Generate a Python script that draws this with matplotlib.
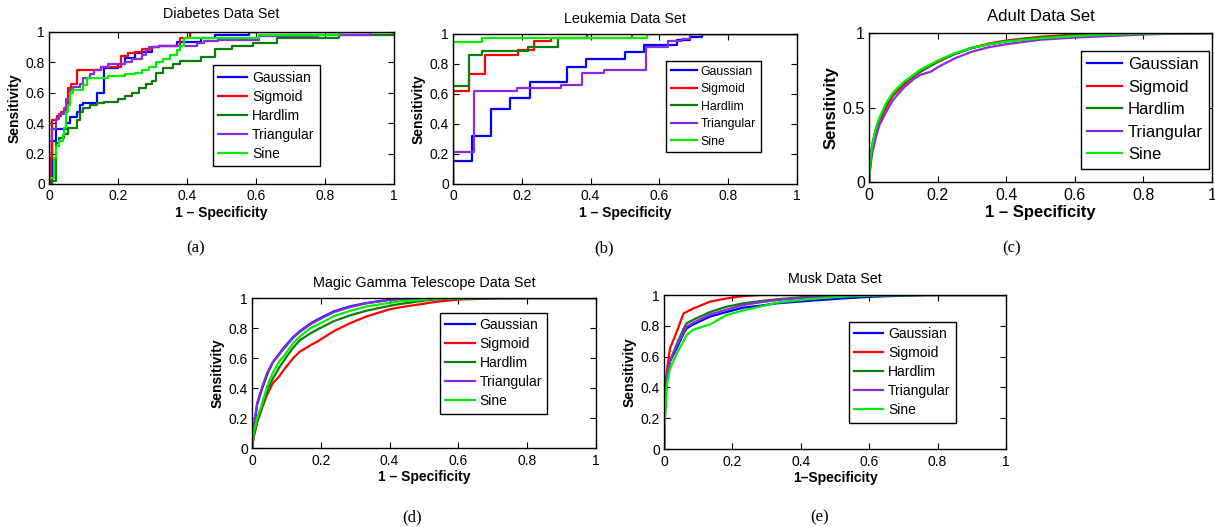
import matplotlib
matplotlib.use('Agg')
import matplotlib.pyplot as plt
from matplotlib.ticker import FuncFormatter

plt.rcParams['font.family'] = ['Liberation Sans', 'DejaVu Sans']

names = ['Gaussian', 'Sigmoid', 'Hardlim', 'Triangular', 'Sine']
colors = ['#0000ff', '#ff0000', '#087f08', '#8a2be2', '#00ee00']

# (a) Diabetes - step ROC curves
diab_gauss_x = [0, 0.01, 0.02, 0.05, 0.06, 0.08, 0.09, 0.10, 0.14, 0.16, 0.20, 0.22, 0.25, 0.27, 0.30, 0.32, 0.37, 0.44, 0.48, 0.58, 1.0]
diab_gauss_y = [0, 0.28, 0.36, 0.40, 0.44, 0.47, 0.52, 0.53, 0.60, 0.76, 0.79, 0.83, 0.86, 0.87, 0.90, 0.91, 0.935, 0.96, 0.98, 1.0, 1.0]
diab_sig_x = [0, 0.005, 0.01, 0.022, 0.035, 0.05, 0.055, 0.065, 0.08, 0.15, 0.21, 0.23, 0.25, 0.27, 0.30, 0.32, 0.38, 0.41, 1.0]
diab_sig_y = [0, 0.17, 0.42, 0.45, 0.47, 0.51, 0.63, 0.66, 0.75, 0.77, 0.84, 0.86, 0.87, 0.89, 0.90, 0.91, 0.96, 1.0, 1.0]
diab_hard_x = [0, 0.01, 0.02, 0.03, 0.045, 0.055, 0.08, 0.09, 0.10, 0.12, 0.14, 0.16, 0.20, 0.22, 0.24, 0.26, 0.28, 0.30, 0.31, 0.33, 0.36, 0.38, 0.44, 0.48, 0.53, 0.59, 0.66, 0.84, 1.0]
diab_hard_y = [0, 0.02, 0.27, 0.30, 0.33, 0.37, 0.42, 0.47, 0.50, 0.52, 0.53, 0.54, 0.56, 0.58, 0.60, 0.63, 0.66, 0.68, 0.73, 0.76, 0.79, 0.81, 0.835, 0.89, 0.91, 0.926, 0.96, 0.98, 1.0]
diab_tri_x = [0, 0, 0.01, 0.02, 0.03, 0.045, 0.05, 0.06, 0.07, 0.09, 0.10, 0.12, 0.13, 0.15, 0.17, 0.22, 0.24, 0.27, 0.28, 0.29, 0.32, 0.43, 0.45, 0.49, 0.61, 0.78, 0.93, 1.0]
diab_tri_y = [0, 0.28, 0.36, 0.43, 0.46, 0.50, 0.56, 0.62, 0.64, 0.66, 0.70, 0.72, 0.75, 0.77, 0.79, 0.80, 0.82, 0.85, 0.88, 0.90, 0.91, 0.93, 0.94, 0.95, 0.97, 0.98, 1.0, 1.0]
diab_sine_x = [0, 0, 0.015, 0.02, 0.03, 0.04, 0.045, 0.05, 0.055, 0.06, 0.07, 0.10, 0.11, 0.17, 0.22, 0.25, 0.27, 0.29, 0.31, 0.33, 0.35, 0.37, 0.38, 0.39, 0.61, 0.84, 1.0]
diab_sine_y = [0, 0.04, 0.17, 0.25, 0.28, 0.32, 0.37, 0.47, 0.52, 0.60, 0.62, 0.65, 0.70, 0.71, 0.72, 0.73, 0.75, 0.77, 0.80, 0.82, 0.85, 0.88, 0.91, 0.963, 0.98, 1.0, 1.0]

# (b) Leukemia - step ROC curves
leuk_gauss_x = [0, 0, 0.055, 0.11, 0.167, 0.223, 0.333, 0.388, 0.50, 0.555, 0.651, 0.689, 0.723, 1.0]
leuk_gauss_y = [0, 0.15, 0.32, 0.50, 0.57, 0.68, 0.78, 0.83, 0.88, 0.925, 0.96, 0.98, 1.0, 1.0]
leuk_sig_x = [0, 0, 0.046, 0.092, 0.189, 0.236, 0.284, 0.52, 1.0]
leuk_sig_y = [0, 0.62, 0.73, 0.86, 0.89, 0.95, 0.975, 1.0, 1.0]
leuk_hard_x = [0, 0, 0.046, 0.085, 0.218, 0.305, 0.39, 1.0]
leuk_hard_y = [0, 0.655, 0.86, 0.885, 0.915, 0.975, 1.0, 1.0]
leuk_tri_x = [0, 0, 0.061, 0.187, 0.315, 0.375, 0.438, 0.561, 0.626, 0.665, 0.689, 1.0]
leuk_tri_y = [0, 0.21, 0.62, 0.64, 0.66, 0.74, 0.76, 0.91, 0.95, 0.965, 1.0, 1.0]
leuk_sine_x = [0, 0, 0.085, 0.563, 1.0]
leuk_sine_y = [0, 0.947, 0.973, 1.0, 1.0]

# (c) Adult
adult_fpr = [0, 0.005, 0.01, 0.02, 0.03, 0.05, 0.07, 0.10, 0.13, 0.15, 0.18, 0.20, 0.25, 0.30, 0.35, 0.40, 0.50, 0.60, 0.70, 0.80, 0.90, 1.0]
adult_gauss = [0, 0.17, 0.25, 0.35, 0.42, 0.52, 0.59, 0.66, 0.71, 0.745, 0.785, 0.81, 0.86, 0.90, 0.925, 0.945, 0.97, 0.985, 0.993, 0.997, 0.999, 1.0]
adult_sig = [0, 0.16, 0.24, 0.34, 0.41, 0.50, 0.58, 0.65, 0.71, 0.74, 0.78, 0.805, 0.86, 0.90, 0.93, 0.95, 0.975, 0.99, 0.995, 0.998, 0.999, 1.0]
adult_hard = [0, 0.17, 0.25, 0.35, 0.42, 0.52, 0.59, 0.665, 0.715, 0.745, 0.78, 0.81, 0.86, 0.90, 0.925, 0.945, 0.97, 0.985, 0.993, 0.997, 0.999, 1.0]
adult_tri = [0, 0.12, 0.20, 0.30, 0.38, 0.47, 0.55, 0.63, 0.69, 0.72, 0.74, 0.77, 0.83, 0.875, 0.905, 0.925, 0.955, 0.97, 0.98, 0.99, 0.997, 1.0]
adult_sine = [0, 0.18, 0.26, 0.36, 0.43, 0.53, 0.60, 0.67, 0.72, 0.755, 0.79, 0.815, 0.865, 0.90, 0.925, 0.943, 0.965, 0.98, 0.99, 0.996, 0.999, 1.0]

# (d) Magic Gamma Telescope
magic_fpr = [0, 0.005, 0.015, 0.03, 0.044, 0.06, 0.08, 0.092, 0.12, 0.14, 0.17, 0.19, 0.237, 0.286, 0.334, 0.40, 0.43, 0.50, 0.53, 0.60, 0.70, 0.80, 1.0]
magic_gauss = [0, 0.12, 0.29, 0.40, 0.49, 0.57, 0.63, 0.667, 0.74, 0.78, 0.83, 0.856, 0.91, 0.945, 0.967, 0.989, 0.993, 0.998, 0.999, 1.0, 1.0, 1.0, 1.0]
magic_sig = [0, 0.07, 0.17, 0.27, 0.356, 0.43, 0.48, 0.52, 0.60, 0.644, 0.685, 0.71, 0.778, 0.833, 0.878, 0.925, 0.938, 0.962, 0.973, 0.99, 0.997, 1.0, 1.0]
magic_hard = [0, 0.08, 0.18, 0.28, 0.38, 0.46, 0.54, 0.58, 0.67, 0.72, 0.765, 0.79, 0.845, 0.885, 0.916, 0.948, 0.96, 0.982, 0.99, 0.996, 0.999, 1.0, 1.0]
magic_tri = [0, 0.14, 0.30, 0.41, 0.50, 0.57, 0.625, 0.66, 0.735, 0.775, 0.825, 0.85, 0.905, 0.94, 0.965, 0.987, 0.992, 0.997, 0.999, 1.0, 1.0, 1.0, 1.0]
magic_sine = [0, 0.10, 0.20, 0.30, 0.41, 0.50, 0.58, 0.61, 0.70, 0.745, 0.80, 0.82, 0.878, 0.915, 0.944, 0.968, 0.978, 0.99, 0.994, 0.998, 1.0, 1.0, 1.0]

# (e) Musk
musk_fpr = [0, 0.003, 0.008, 0.0175, 0.037, 0.057, 0.066, 0.086, 0.135, 0.183, 0.232, 0.28, 0.33, 0.427, 0.524, 0.62, 0.77, 1.0]
musk_gauss = [0, 0.25, 0.48, 0.57, 0.653, 0.75, 0.783, 0.81, 0.86, 0.89, 0.918, 0.93, 0.946, 0.963, 0.978, 0.99, 1.0, 1.0]
musk_sig = [0, 0.30, 0.50, 0.653, 0.76, 0.88, 0.89, 0.913, 0.957, 0.978, 0.993, 1.0, 1.0, 1.0, 1.0, 1.0, 1.0, 1.0]
musk_hard = [0, 0.25, 0.47, 0.57, 0.68, 0.78, 0.816, 0.84, 0.89, 0.924, 0.946, 0.96, 0.972, 0.99, 0.997, 1.0, 1.0, 1.0]
musk_tri = [0, 0.26, 0.48, 0.57, 0.67, 0.76, 0.794, 0.82, 0.874, 0.905, 0.935, 0.952, 0.967, 0.985, 0.995, 1.0, 1.0, 1.0]
musk_sine = [0, 0.20, 0.414, 0.52, 0.62, 0.70, 0.74, 0.775, 0.81, 0.87, 0.90, 0.924, 0.95, 0.974, 0.99, 0.997, 1.0, 1.0]

fig = plt.figure(figsize=(12.15, 5.27), dpi=100)


def setup(ax, title, xlabel, yticks, fs_tick, fs_lab, fs_title, tpad):
    ax.set_xlim(0, 1)
    ax.set_ylim(0, 1)
    ax.set_xticks([0, 0.2, 0.4, 0.6, 0.8, 1])
    ax.set_yticks(yticks)
    fmt = FuncFormatter(lambda v, p: '%g' % v)
    ax.xaxis.set_major_formatter(fmt)
    ax.yaxis.set_major_formatter(fmt)
    ax.tick_params(direction='in', top=True, right=True, labelsize=fs_tick, length=4, pad=3)
    ax.tick_params(axis='x', pad=4)
    ax.set_title(title, fontsize=fs_title, pad=tpad)
    ax.set_xlabel(xlabel, fontsize=fs_lab, fontweight='bold', labelpad=2)
    ax.set_ylabel('Sensitivity', fontsize=fs_lab, fontweight='bold', labelpad=3)
    for s in ax.spines.values():
        s.set_linewidth(1.0)


def add_legend(ax, anchor, fs, spacing=0.36):
    leg = ax.legend(loc='upper left', bbox_to_anchor=anchor, fontsize=fs, fancybox=False,
                    framealpha=1, edgecolor='black', borderaxespad=0, handlelength=2.1,
                    handletextpad=0.35, labelspacing=spacing, borderpad=0.38)
    leg.get_frame().set_linewidth(1.0)


# (a)
ax = fig.add_axes([0.0403, 0.651, 0.284, 0.2884])
for xs, ys, n, c in zip([diab_gauss_x, diab_sig_x, diab_hard_x, diab_tri_x, diab_sine_x],
                        [diab_gauss_y, diab_sig_y, diab_hard_y, diab_tri_y, diab_sine_y], names, colors):
    ax.plot(xs, ys, drawstyle='steps-post', color=c, lw=1.6, label=n)
setup(ax, 'Diabetes Data Set', '1 \u2013 Specificity', [0, 0.2, 0.4, 0.6, 0.8, 1], 10, 10, 10.3, 10)
add_legend(ax, (0.475, 0.78), 10)

# (b)
ax = fig.add_axes([0.3728, 0.651, 0.2831, 0.2846])
for xs, ys, n, c in zip([leuk_gauss_x, leuk_sig_x, leuk_hard_x, leuk_tri_x, leuk_sine_x],
                        [leuk_gauss_y, leuk_sig_y, leuk_hard_y, leuk_tri_y, leuk_sine_y], names, colors):
    ax.plot(xs, ys, drawstyle='steps-post', color=c, lw=1.6, label=n)
setup(ax, 'Leukemia Data Set', '1 \u2013 Specificity', [0, 0.2, 0.4, 0.6, 0.8, 1], 10, 10, 10.3, 8)
add_legend(ax, (0.62, 0.82), 8.8, 0.45)

# (c)
ax = fig.add_axes([0.7152, 0.6546, 0.2823, 0.2827])
for ys, n, c in zip([adult_gauss, adult_sig, adult_hard, adult_tri, adult_sine], names, colors):
    ax.plot(adult_fpr, ys, color=c, lw=1.6, label=n)
setup(ax, 'Adult Data Set', '1 \u2013 Specificity', [0, 0.5, 1], 11.5, 12, 12, 9)
add_legend(ax, (0.618, 0.88), 12, 0.45)

# (d)
ax = fig.add_axes([0.2074, 0.1499, 0.2831, 0.2846])
for ys, n, c in zip([magic_gauss, magic_sig, magic_hard, magic_tri, magic_sine], names, colors):
    ax.plot(magic_fpr, ys, color=c, lw=1.6, label=n)
setup(ax, 'Magic Gamma Telescope Data Set', '1 \u2013 Specificity', [0, 0.2, 0.4, 0.6, 0.8, 1], 10, 10, 10.4, 8)
add_legend(ax, (0.547, 0.9), 10)

# (e)
ax = fig.add_axes([0.5465, 0.148, 0.2815, 0.2922])
for ys, n, c in zip([musk_gauss, musk_sig, musk_hard, musk_tri, musk_sine], names, colors):
    ax.plot(musk_fpr, ys, color=c, lw=1.6, label=n)
setup(ax, 'Musk Data Set', '1\u2013Specificity', [0, 0.2, 0.4, 0.6, 0.8, 1], 10, 10, 10.3, 8.5)
add_legend(ax, (0.54, 0.825), 10)

# captions
for label, x, y in [('(a)', 196, 248), ('(b)', 604, 248), ('(c)', 1012, 248), ('(d)', 412, 517), ('(e)', 820, 517)]:
    fig.text(x / 1215, 1 - y / 527, label, ha='center', va='center', fontsize=12, family='Liberation Serif')

fig.savefig('out.png', dpi=100)
